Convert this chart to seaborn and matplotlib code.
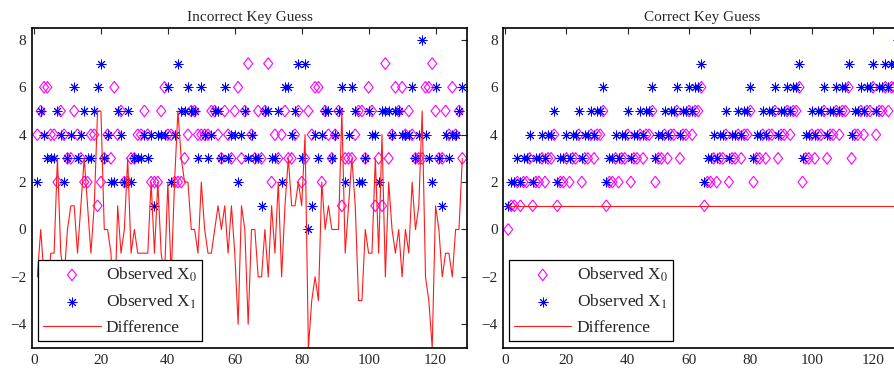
import matplotlib
matplotlib.use('Agg')
import matplotlib.pyplot as plt
import pandas as pd
import seaborn as sns

# x axis: guessed byte index 1..128
idx = list(range(1, 129))

# Incorrect key guess
wrong_x0 = [4, 5, 6, 6, 4, 4, 2, 5, 4, 3,
            3, 5, 4, 3, 2, 2, 4, 4, 1, 2,
            3, 4, 3, 6, 4, 5, 2, 2, 3, 3,
            4, 4, 5, 4, 2, 2, 2, 5, 6, 4,
            4, 2, 2, 2, 3, 4, 5, 5, 4, 4,
            4, 4, 5, 5, 4, 3, 5, 4, 3, 5,
            6, 3, 5, 7, 4, 3, 5, 3, 5, 7,
            2, 4, 3, 4, 5, 3, 3, 4, 5, 2,
            3, 5, 4, 6, 6, 2, 5, 4, 3, 4,
            5, 1, 3, 3, 3, 4, 5, 5, 3, 6,
            5, 1, 3, 1, 7, 3, 4, 6, 5, 6,
            4, 5, 4, 3, 3, 3, 6, 6, 7, 5,
            3, 3, 5, 4, 6, 4, 5, 3]
wrong_x1 = [2, 5, 4, 3, 3, 3, 5, 4, 2, 3,
            4, 6, 3, 4, 5, 3, 3, 5, 6, 7,
            3, 4, 2, 2, 5, 4, 2, 5, 2, 3,
            3, 3, 4, 3, 4, 1, 4, 4, 4, 6,
            2, 4, 7, 5, 5, 6, 5, 5, 3, 6,
            4, 3, 4, 5, 5, 3, 6, 3, 4, 4,
            2, 4, 5, 3, 4, 3, 3, 1, 5, 5,
            3, 3, 5, 2, 6, 6, 4, 5, 7, 3,
            7, 0, 1, 4, 3, 4, 5, 5, 3, 4,
            5, 6, 2, 4, 6, 5, 2, 2, 3, 5,
            4, 4, 2, 5, 5, 5, 4, 5, 5, 4,
            4, 4, 6, 3, 4, 8, 4, 3, 2, 6,
            3, 1, 4, 3, 4, 4, 5, 6]

# Correct key guess
right_x0 = [0, 1, 1, 2, 1, 2, 2, 3, 1, 2, 2, 3, 2, 3, 3, 4,
            1, 2, 2, 3, 2, 3, 3, 4, 2, 3, 3, 4, 3, 4, 4, 5,
            1, 2, 2, 3, 2, 3, 3, 4, 2, 3, 3, 4, 3, 4, 4, 5,
            2, 3, 3, 4, 3, 4, 4, 5, 3, 4, 4, 5, 4, 5, 5, 6,
            1, 2, 2, 3, 2, 3, 3, 4, 2, 3, 3, 4, 3, 4, 4, 5,
            2, 3, 3, 4, 3, 4, 4, 5, 3, 4, 4, 5, 4, 5, 5, 6,
            2, 3, 3, 4, 3, 4, 4, 5, 3, 4, 4, 5, 4, 5, 5, 6,
            3, 4, 4, 5, 4, 5, 5, 6, 4, 5, 5, 6, 5, 6, 6, 7]
right_x1 = [1, 2, 2, 3, 2, 3, 3, 4, 2, 3, 3, 4, 3, 4, 4, 5,
            2, 3, 3, 4, 3, 4, 4, 5, 3, 4, 4, 5, 4, 5, 5, 6,
            2, 3, 3, 4, 3, 4, 4, 5, 3, 4, 4, 5, 4, 5, 5, 6,
            3, 4, 4, 5, 4, 5, 5, 6, 4, 5, 5, 6, 5, 6, 6, 7,
            2, 3, 3, 4, 3, 4, 4, 5, 3, 4, 4, 5, 4, 5, 5, 6,
            3, 4, 4, 5, 4, 5, 5, 6, 4, 5, 5, 6, 5, 6, 6, 7,
            3, 4, 4, 5, 4, 5, 5, 6, 4, 5, 5, 6, 5, 6, 6, 7,
            4, 5, 5, 6, 5, 6, 6, 7, 5, 6, 6, 7, 6, 7, 7, 8]

titles = ['Incorrect Key Guess', 'Correct Key Guess']
xticks = [0, 20, 40, 60, 80, 100, 120]
yticks = [-4, -2, 0, 2, 4, 6, 8]

sns.set_style('white')
plt.rcParams['font.family'] = ['Liberation Serif', 'DejaVu Serif']
plt.rcParams['mathtext.fontset'] = 'stix'

# matlab style diamond, a bit taller than wide
diamond = [(0, 1), (0.78, 0), (0, -1), (-0.78, 0), (0, 1)]


def draw_panel(ax, x0, x1, title):
    df = pd.DataFrame({'idx': idx, 'x0': x0, 'x1': x1})
    df['diff'] = df['x1'] - df['x0']
    sns.scatterplot(data=df, x='idx', y='x0', ax=ax, marker=diamond, s=70,
                    facecolor='none', edgecolor='#ff00ff', linewidth=0.8,
                    label='Observed X$_0$')
    sns.scatterplot(data=df, x='idx', y='x1', ax=ax, marker=(8, 2, 0), s=42,
                    color='#0000ff', edgecolor='#0000ff', linewidth=0.7,
                    label='Observed X$_1$')
    sns.lineplot(data=df, x='idx', y='diff', ax=ax, color='#ff1a1a',
                 lw=0.8, label='Difference')

    ax.set_xlim(-0.6, 129.4)
    ax.set_ylim(-5, 8.5)
    ax.set_xticks(xticks)
    ax.set_yticks(yticks)
    ax.set_xlabel('')
    ax.set_ylabel('')
    ax.set_title(title, fontsize=11, pad=5)
    ax.tick_params(direction='in', length=4, width=0.8, labelsize=11,
                   top=True, right=True, pad=4)
    for sp in ax.spines.values():
        sp.set_linewidth(1.2)
        sp.set_color('black')
    ax.legend(loc='lower left', bbox_to_anchor=(0.014, 0.022),
              borderaxespad=0, frameon=True, fancybox=False,
              edgecolor='black', framealpha=1, fontsize=12.5,
              handlelength=3.3, handletextpad=0.3, labelspacing=0.5,
              borderpad=0.3, scatterpoints=1)
    ax.get_legend().get_frame().set_linewidth(0.9)


fig = plt.figure(figsize=(8.95, 3.78), dpi=100)
ax1 = fig.add_axes([32 / 895, 30 / 378, 435 / 895, 320 / 378])
ax2 = fig.add_axes([503.3 / 895, 30 / 378, 398.6 / 895, 320 / 378])

draw_panel(ax1, wrong_x0, wrong_x1, titles[0])
draw_panel(ax2, right_x0, right_x1, titles[1])

fig.savefig('out.png', dpi=100)
